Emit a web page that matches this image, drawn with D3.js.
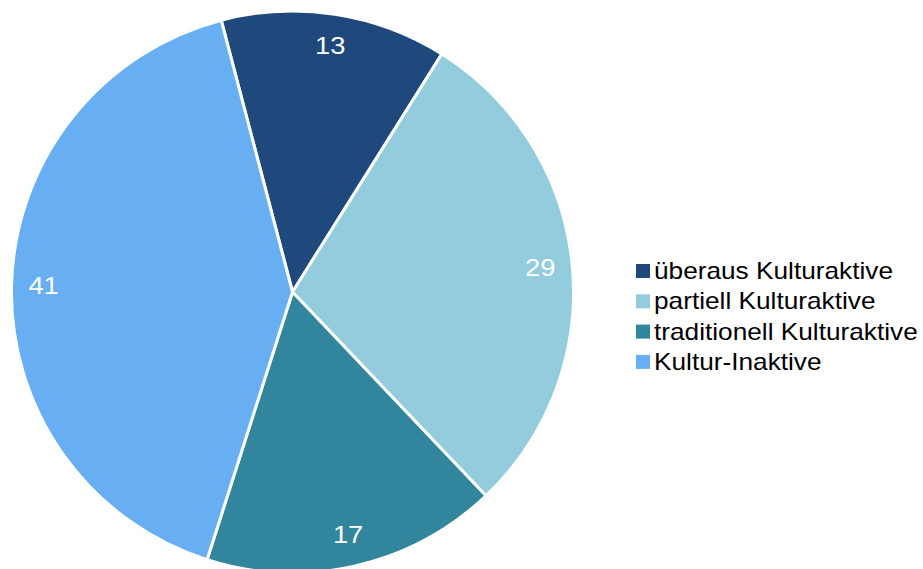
<!DOCTYPE html>
<html>
<head>
<meta charset="utf-8">
<script src="https://cdn.jsdelivr.net/npm/d3@7"></script>
<style>
  body { margin: 0; background: #fff; }
  text { font-family: "Liberation Sans", Arial, sans-serif; }
</style>
</head>
<body>
<svg width="923" height="569"></svg>
<script>
var categories = ["überaus Kulturaktive", "partiell Kulturaktive", "traditionell Kulturaktive", "Kultur-Inaktive"];
var values = [13, 29, 17, 41];
var colors = ["#1F497D", "#93CDDD", "#31859C", "#67AFF2"];

var svg = d3.select("svg"),
    width = +svg.attr("width"),
    height = +svg.attr("height");

var cx = 292.5, cy = 292, radius = 281;
var stretch = 1.14; // text in the original is a bit wider

var data = categories.map(function (c, i) { return { name: c, value: values[i] }; });

var startA = -14.7 * Math.PI / 180;
var pie = d3.pie()
    .sort(null)
    .value(function (d) { return d.value; })
    .startAngle(startA)
    .endAngle(startA + 2 * Math.PI);

var arc = d3.arc().innerRadius(0).outerRadius(radius);
var labelArc = d3.arc().innerRadius(249).outerRadius(249);

var g = svg.append("g").attr("transform", "translate(" + cx + "," + cy + ")");

var slice = g.selectAll(".slice")
    .data(pie(data))
    .enter().append("g")
    .attr("class", "slice");

slice.append("path")
    .attr("d", arc)
    .style("fill", function (d, i) { return colors[i]; })
    .style("stroke", "#fff")
    .style("stroke-width", 3)
    .style("stroke-linejoin", "round");

slice.append("text")
    .attr("transform", function (d) { return "translate(" + labelArc.centroid(d) + ") scale(" + stretch + ",1)"; })
    .attr("text-anchor", "middle")
    .attr("dy", "0.35em")
    .attr("fill", "#fff")
    .attr("font-size", 24)
    .text(function (d) { return d.data.value; });

// legend
var legend = svg.append("g").attr("transform", "translate(636,271)");
var item = legend.selectAll(".item")
    .data(data)
    .enter().append("g")
    .attr("class", "item")
    .attr("transform", function (d, i) { return "translate(0," + (i * 30.3) + ")"; });

item.append("rect")
    .attr("x", 0).attr("y", -7)
    .attr("width", 14).attr("height", 14)
    .style("fill", function (d, i) { return colors[i]; });

item.append("text")
    .attr("transform", "translate(18,0) scale(" + stretch + ",1)")
    .attr("dy", "0.35em")
    .attr("font-size", 23)
    .attr("fill", "#000")
    .text(function (d) { return d.name; });
</script>
</body>
</html>
